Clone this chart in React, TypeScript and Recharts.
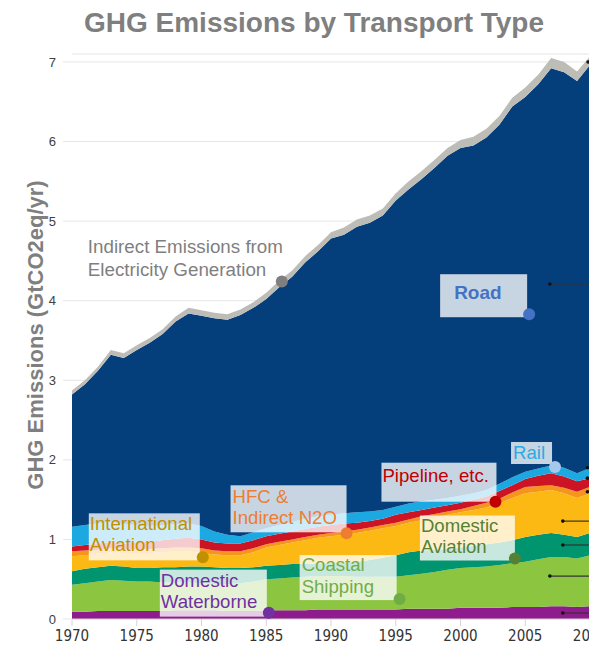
import { AreaChart, Area, XAxis, YAxis, CartesianGrid, ReferenceDot, ReferenceLine } from 'recharts';

// GtCO2eq/yr per layer, 1970..2010 (stacked bottom to top)
const years = [
  1970, 1971, 1972, 1973, 1974, 1975, 1976, 1977, 1978, 1979,
  1980, 1981, 1982, 1983, 1984, 1985, 1986, 1987, 1988, 1989,
  1990, 1991, 1992, 1993, 1994, 1995, 1996, 1997, 1998, 1999,
  2000, 2001, 2002, 2003, 2004, 2005, 2006, 2007, 2008, 2009, 2010,
];
const waterborne = [
  0.09, 0.09, 0.1, 0.1, 0.1, 0.1, 0.1, 0.1, 0.11, 0.11,
  0.11, 0.11, 0.1, 0.1, 0.1, 0.11, 0.11, 0.11, 0.11, 0.12,
  0.12, 0.12, 0.12, 0.12, 0.12, 0.12, 0.13, 0.13, 0.13, 0.13,
  0.14, 0.14, 0.14, 0.14, 0.15, 0.15, 0.15, 0.16, 0.16, 0.15, 0.16,
];
const coastal = [
  0.34, 0.36, 0.37, 0.39, 0.38, 0.37, 0.37, 0.36, 0.35, 0.35,
  0.34, 0.33, 0.34, 0.35, 0.37, 0.39, 0.4, 0.41, 0.42, 0.42,
  0.42, 0.42, 0.41, 0.41, 0.41, 0.41, 0.42, 0.44, 0.46, 0.49,
  0.5, 0.51, 0.52, 0.54, 0.55, 0.57, 0.6, 0.62, 0.62, 0.61, 0.64,
];
const domAviation = [
  0.17, 0.18, 0.18, 0.18, 0.18, 0.17, 0.17, 0.19, 0.19, 0.2,
  0.21, 0.21, 0.2, 0.19, 0.18, 0.17, 0.17, 0.17, 0.16, 0.16,
  0.16, 0.17, 0.19, 0.21, 0.24, 0.27, 0.29, 0.29, 0.28, 0.26,
  0.26, 0.27, 0.28, 0.28, 0.29, 0.31, 0.31, 0.3, 0.28, 0.27, 0.28,
];
const intlAviation = [
  0.19, 0.17, 0.17, 0.17, 0.17, 0.19, 0.19, 0.19, 0.2, 0.19,
  0.17, 0.16, 0.16, 0.16, 0.19, 0.23, 0.25, 0.27, 0.3, 0.32,
  0.34, 0.35, 0.36, 0.37, 0.37, 0.37, 0.37, 0.38, 0.4, 0.43,
  0.44, 0.45, 0.46, 0.49, 0.53, 0.55, 0.54, 0.54, 0.52, 0.49, 0.5,
];
const hfc = [
  0.06, 0.06, 0.05, 0.05, 0.05, 0.05, 0.05, 0.05, 0.05, 0.05,
  0.06, 0.05, 0.05, 0.05, 0.05, 0.04, 0.04, 0.04, 0.04, 0.04,
  0.04, 0.04, 0.04, 0.04, 0.04, 0.04, 0.04, 0.05, 0.05, 0.04,
  0.04, 0.05, 0.06, 0.06, 0.07, 0.08, 0.07, 0.06, 0.07, 0.08, 0.08,
];
const pipeline = [
  0.06, 0.07, 0.08, 0.08, 0.07, 0.08, 0.09, 0.1, 0.11, 0.12,
  0.11, 0.1, 0.1, 0.1, 0.1, 0.1, 0.1, 0.1, 0.1, 0.1,
  0.1, 0.1, 0.09, 0.08, 0.08, 0.1, 0.09, 0.08, 0.08, 0.08,
  0.08, 0.08, 0.08, 0.1, 0.09, 0.1, 0.13, 0.15, 0.14, 0.13, 0.11,
];
const rail = [
  0.25, 0.25, 0.25, 0.25, 0.24, 0.22, 0.2, 0.19, 0.18, 0.18,
  0.17, 0.14, 0.11, 0.09, 0.1, 0.1, 0.11, 0.12, 0.13, 0.13,
  0.13, 0.13, 0.13, 0.12, 0.11, 0.1, 0.11, 0.11, 0.1, 0.09,
  0.09, 0.08, 0.08, 0.09, 0.1, 0.09, 0.09, 0.1, 0.11, 0.1, 0.13,
];
const road = [
  1.66, 1.77, 1.92, 2.1, 2.09, 2.2, 2.3, 2.4, 2.55, 2.64,
  2.64, 2.68, 2.7, 2.78, 2.82, 2.88, 2.99, 3.08, 3.22, 3.33,
  3.47, 3.5, 3.59, 3.63, 3.7, 3.85, 3.95, 4.05, 4.17, 4.3,
  4.37, 4.37, 4.43, 4.51, 4.66, 4.71, 4.83, 4.99, 4.97, 4.93, 5.06,
];
const indirect = [
  0.05, 0.05, 0.05, 0.06, 0.06, 0.06, 0.06, 0.06, 0.06, 0.07,
  0.07, 0.07, 0.07, 0.07, 0.07, 0.08, 0.08, 0.08, 0.08, 0.08,
  0.08, 0.09, 0.09, 0.09, 0.09, 0.09, 0.1, 0.1, 0.1, 0.1,
  0.1, 0.11, 0.11, 0.11, 0.11, 0.12, 0.12, 0.13, 0.13, 0.12, 0.11,
];

const xTicks = [1970, 1975, 1980, 1985, 1990, 1995, 2000, 2005, 2010];
const yTicks = [0, 1, 2, 3, 4, 5, 6, 7];

const data = years.map((year, i) => ({
  year,
  waterborne: waterborne[i],
  coastal: coastal[i],
  domAviation: domAviation[i],
  intlAviation: intlAviation[i],
  hfc: hfc[i],
  pipeline: pipeline[i],
  rail: rail[i],
  road: road[i],
  indirect: indirect[i],
}));

const layers = [
  { key: 'waterborne', color: '#8E1C8C' },
  { key: 'coastal', color: '#8CC540' },
  { key: 'domAviation', color: '#00946F' },
  { key: 'intlAviation', color: '#FDB913' },
  { key: 'hfc', color: '#F6951E' },
  { key: 'pipeline', color: '#CC1424' },
  { key: 'rail', color: '#1CA9E1' },
  { key: 'road', color: '#043F7B' },
  { key: 'indirect', color: '#BEBCB6' },
];

const FONT = '"Liberation Sans", Arial, sans-serif';

// callouts: anchor in data units, box/text offsets in px from the dot
interface Note {
  x: number;
  y: number;
  lines: string[];
  color: string;
  dot: string;
  box?: [number, number, number, number];
  tx: number;
  ty: number[];
  size?: number;
  bold?: boolean;
}

const notes: Note[] = [
  { x: 1986.2, y: 4.24, lines: ['Indirect Emissions from', 'Electricity Generation'], color: '#7F7F7F', dot: '#7F7F7F', tx: -194, ty: [-29, -6], size: 18.8 },
  { x: 2005.3, y: 3.83, lines: ['Road'], color: '#4472C4', dot: '#4472C4', box: [-89, -40, 87, 43], tx: -75, ty: [-15], size: 19, bold: true },
  { x: 2007.3, y: 1.91, lines: ['Rail'], color: '#29ABE2', dot: '#A6C8EA', box: [-44, -25, 41, 22], tx: -42, ty: [-8] },
  { x: 2002.7, y: 1.474, lines: ['Pipeline, etc.'], color: '#C00000', dot: '#C00000', box: [-114, -39, 115, 39], tx: -113, ty: [-20] },
  { x: 1991.2, y: 1.077, lines: ['HFC &', 'Indirect N2O'], color: '#ED7D31', dot: '#ED7D31', box: [-116, -48, 116, 47], tx: -114, ty: [-30, -9] },
  { x: 1980.1, y: 0.775, lines: ['International', 'Aviation'], color: '#BF9000', dot: '#BF9000', box: [-114, -44, 111, 47], tx: -113, ty: [-27, -6] },
  { x: 2004.2, y: 0.76, lines: ['Domestic', 'Aviation'], color: '#548235', dot: '#548235', box: [-95, -43, 95, 45], tx: -94, ty: [-27, -6] },
  { x: 1995.3, y: 0.25, lines: ['Coastal', 'Shipping'], color: '#70AD47', dot: '#70AD47', box: [-100, -44, 97, 45], tx: -98, ty: [-28, -6] },
  { x: 1985.2, y: 0.08, lines: ['Domestic', 'Waterborne'], color: '#7030A0', dot: '#7030A0', box: [-109, -43, 107, 47], tx: -108, ty: [-26, -5] },
];

// leader stubs from the cropped legend at the right edge
const leaders = [
  { from: 2006.9, y: 4.21 },
  { from: 2009.8, y: 1.9 },
  { from: 2009.8, y: 1.77 },
  { from: 2009.8, y: 1.6 },
  { from: 2007.9, y: 1.23 },
  { from: 2007.9, y: 0.93 },
  { from: 2006.9, y: 0.54 },
  { from: 2007.9, y: 0.075 },
];

const renderNote = (n: Note) => (props: any) => {
  const { cx, cy } = props;
  return (
    <g>
      {n.box && (
        <rect
          x={cx + n.box[0]}
          y={cy + n.box[1]}
          width={n.box[2]}
          height={n.box[3]}
          fill="#ffffff"
          fillOpacity={0.78}
        />
      )}
      <text fill={n.color} fontSize={n.size ?? 18.6} fontWeight={n.bold ? 700 : 400} fontFamily={FONT}>
        {n.lines.map((l, i) => (
          <tspan key={i} x={cx + n.tx} y={cy + n.ty[i]}>
            {l}
          </tspan>
        ))}
      </text>
      <circle cx={cx} cy={cy} r={6} fill={n.dot} />
    </g>
  );
};

export default function App() {
  return (
    <div style={{ position: 'relative', width: 589, height: 642, marginBottom: -8, overflow: 'hidden', fontFamily: FONT }}>
      <AreaChart width={620} height={642} data={data} margin={{ top: 46, right: 38, bottom: 11, left: 4 }}>
        <CartesianGrid horizontal vertical={false} stroke="#e6e6e6" />
        <XAxis
          dataKey="year"
          type="number"
          domain={[1970, 2010]}
          ticks={xTicks}
          height={20}
          tickSize={7}
          tickMargin={4}
          axisLine={{ stroke: '#d4d4d4' }}
          tickLine={{ stroke: '#d4d4d4' }}
          tick={{ fill: '#333', fontSize: 15, fontFamily: '"Liberation Sans Narrow", "DejaVu Sans Condensed", sans-serif' }}
        />
        <YAxis
          domain={[0, 7.1]}
          ticks={yTicks}
          width={60}
          tickSize={9}
          tickMargin={7}
          axisLine={false}
          tickLine={{ stroke: '#e6e6e6' }}
          tick={{ fill: '#404040', fontSize: 13, fontFamily: FONT }}
        />
        {layers.map((l) => (
          <Area
            key={l.key}
            dataKey={l.key}
            stackId="1"
            type="linear"
            stroke="none"
            fill={l.color}
            fillOpacity={1}
            isAnimationActive={false}
          />
        ))}
        {leaders.map((s, i) => (
          <ReferenceLine
            key={`ld-${i}`}
            segment={[{ x: s.from, y: s.y }, { x: 2010, y: s.y }]}
            stroke="#333"
            strokeWidth={1.2}
          />
        ))}
        {leaders.map((s, i) => (
          <ReferenceDot key={`lp-${i}`} x={s.from} y={s.y} r={1.8} fill="#111" stroke="none" />
        ))}
        <ReferenceDot x={2009.85} y={7.0} r={1.8} fill="#111" stroke="none" />
        {notes.map((n, i) => (
          <ReferenceDot key={`n-${i}`} x={n.x} y={n.y} r={6} shape={renderNote(n)} />
        ))}
      </AreaChart>
      <svg width={589} height={642} style={{ position: 'absolute', left: 0, top: 0, pointerEvents: 'none' }}>
        <text x={306} y={24} textAnchor="middle" fill="#7F7F7F" fontSize={28} fontWeight={700} fontFamily={FONT}>
          GHG Emissions by Transport Type
        </text>
        <text
          x={35}
          y={327}
          transform="rotate(-90, 35, 327)"
          textAnchor="middle"
          fill="#7F7F7F"
          fontSize={22}
          fontWeight={700}
          fontFamily={FONT}
        >
          GHG Emissions (GtCO2eq/yr)
        </text>
      </svg>
    </div>
  );
}
